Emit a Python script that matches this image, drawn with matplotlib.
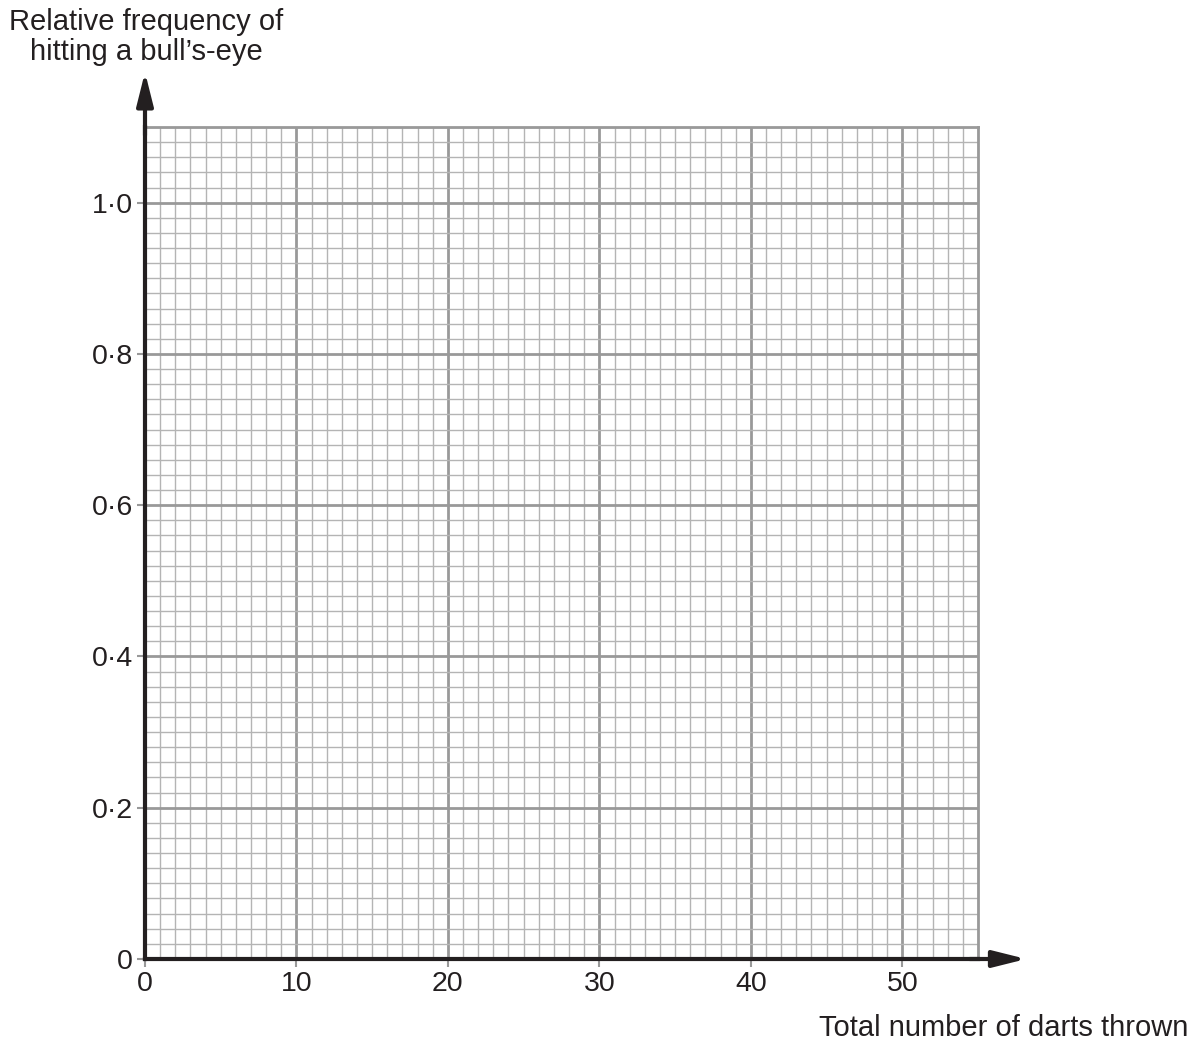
import matplotlib.pyplot as plt
from matplotlib.ticker import MultipleLocator

plt.rcParams["font.family"] = ["Liberation Sans", "DejaVu Sans"]

X_MAX = 55
Y_MAX = 1.1
x_ticks = [0, 10, 20, 30, 40, 50]
x_tick_labels = ["0", "10", "20", "30", "40", "50"]
y_ticks = [0, 0.2, 0.4, 0.6, 0.8, 1.0]
y_tick_labels = ["0", "0·2", "0·4", "0·6", "0·8", "1·0"]
x_label = "Total number of darts thrown"
y_label = "Relative frequency of\nhitting a bull’s-eye"

INK = "#231f20"
GRID_MAJOR = "#999999"

fig = plt.figure(figsize=(12.03, 10.44), dpi=100)
W, H = 1203, 1044
ax = fig.add_axes([145 / W, (H - 959) / H, (978 - 145) / W, (959 - 127) / H])
ax.set_xlim(0, X_MAX)
ax.set_ylim(0, Y_MAX)

# graph paper
ax.xaxis.set_minor_locator(MultipleLocator(1))
ax.yaxis.set_minor_locator(MultipleLocator(0.02))
ax.grid(which="minor", color="#b4b4b4", linewidth=1.0)
ax.grid(which="major", color=GRID_MAJOR, linewidth=2.0)
ax.set_axisbelow(True)

ax.set_xticks(x_ticks)
ax.set_xticklabels(x_tick_labels, fontsize=20.5, color=INK)
ax.set_yticks(y_ticks)
ax.set_yticklabels(y_tick_labels, fontsize=20.5, color=INK)
ax.tick_params(which="minor", length=0)
ax.tick_params(which="major", length=5.5, width=1.5, color=GRID_MAJOR, pad=3)
ax.xaxis.get_major_ticks()[0].tick1line.set_color(INK)
ax.yaxis.get_major_ticks()[0].tick1line.set_color(INK)

for side in ["top", "right"]:
    ax.spines[side].set_color(GRID_MAJOR)
    ax.spines[side].set_linewidth(2.0)
for side in ["left", "bottom"]:
    ax.spines[side].set_color(INK)
    ax.spines[side].set_linewidth(3.0)
    ax.spines[side].set_zorder(5)

# axis arrows
arrow = dict(arrowstyle="-|>,head_length=2.0,head_width=0.5", color=INK, lw=3,
             shrinkA=0, shrinkB=0)
ax.annotate("", xy=(1.058, 0), xytext=(0.99, 0), xycoords="axes fraction",
            arrowprops=arrow, annotation_clip=False)
ax.annotate("", xy=(0, 1.066), xytext=(0, 0.99), xycoords="axes fraction",
            arrowprops=arrow, annotation_clip=False)

fig.text(1188 / W, 1 - 1028 / H, x_label, fontsize=21, color=INK,
         ha="right", va="center")
fig.text(146 / W, 1 - 37 / H, y_label, fontsize=21, color=INK,
         ha="center", va="center", linespacing=1.05)

fig.savefig("out.png", dpi=100)
